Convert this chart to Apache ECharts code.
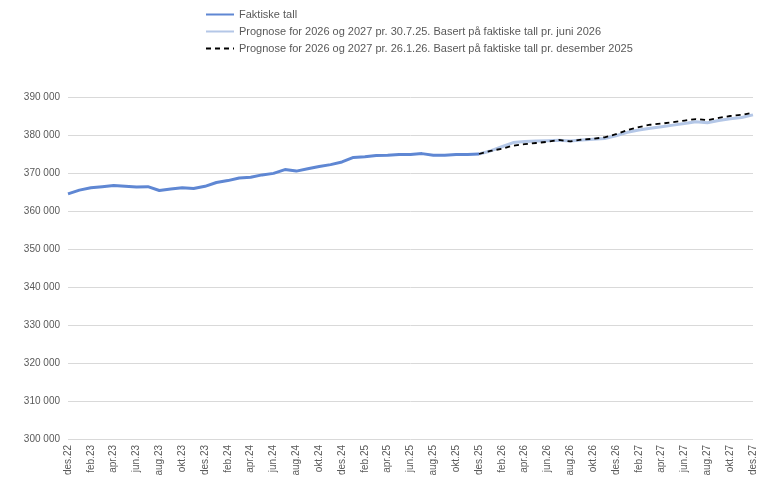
<!DOCTYPE html>
<html>
<head>
<meta charset="utf-8">
<script src="https://cdn.jsdelivr.net/npm/echarts@6/dist/echarts.min.js"></script>
<style>
  html, body { margin: 0; padding: 0; background: #fff; }
  #chart-container { width: 768px; height: 501px; }
</style>
</head>
<body>
<div id="chart-container"></div>
<script>
// month labels des.22 .. des.27
var monthNames = ["jan", "feb", "mar", "apr", "mai", "jun", "jul", "aug", "sep", "okt", "nov", "des"];
var years = ["23", "24", "25", "26", "27"];
var categories = ["des.22"];
years.forEach(function (y) {
  monthNames.forEach(function (m) {
    categories.push(m + "." + y);
  });
});

// Faktiske tall, des.22 - des.25
var actual = [
  364500, 365500, 366100, 366400, 366700, 366500, 366300, 366400, 365400, 365800,
  366100, 365900, 366500, 367500, 368000, 368700, 368900, 369500, 369900, 370900,
  370500, 371100, 371700, 372200, 372900, 374100, 374300, 374600, 374700, 374900,
  374900, 375100, 374700, 374700, 374900, 374900, 375000
];

// Prognose pr. 30.7.25, des.25 - des.27
var forecastJul = [
  375000, 375800, 376900, 378000, 378300, 378400, 378500, 378600, 378400, 378700,
  378900, 379100, 379800, 380700, 381300, 381800, 382200, 382600, 383000, 383500,
  383200, 383800, 384300, 384600, 385300
];

// Prognose pr. 26.1.26, des.25 - des.27
var forecastJan = [
  375000, 375800, 376400, 377200, 377600, 377900, 378200, 378700, 378300, 378800,
  379000, 379400, 380200, 381300, 382100, 382700, 383000, 383400, 383800, 384200,
  383900, 384500, 385000, 385300, 385900
];

var seriesNames = [
  "Faktiske tall",
  "Prognose for 2026 og 2027 pr. 30.7.25. Basert på faktiske tall pr. juni 2026",
  "Prognose for 2026 og 2027 pr. 26.1.26. Basert på faktiske tall pr. desember 2025"
];

function padFront(arr, offset) {
  var out = [];
  for (var i = 0; i < offset; i++) out.push(null);
  return out.concat(arr);
}
var offset = actual.length - 1;

var dom = document.getElementById("chart-container");
var myChart = echarts.init(dom, null, { renderer: "canvas" });

var textColor = "#595959";
var option = {
  animation: false,
  textStyle: { fontFamily: "Liberation Sans, Arial, sans-serif" },
  legend: {
    orient: "vertical",
    left: 200,
    top: 4,
    itemGap: 6,
    itemWidth: 28,
    itemHeight: 11,
    itemStyle: { opacity: 0 },
    textStyle: { color: textColor, fontSize: 11 },
    data: seriesNames
  },
  grid: { left: 68, right: 15, top: 97, bottom: 62 },
  xAxis: {
    type: "category",
    boundaryGap: false,
    data: categories,
    axisLine: { show: false },
    axisTick: { show: false },
    axisLabel: {
      interval: 1,
      rotate: 90,
      color: textColor,
      fontSize: 10,
      margin: 6
    }
  },
  yAxis: {
    type: "value",
    min: 300000,
    max: 390000,
    interval: 10000,
    axisLine: { show: false },
    axisTick: { show: false },
    splitLine: { lineStyle: { color: "#d9d9d9", width: 1 } },
    axisLabel: {
      color: textColor,
      fontSize: 10,
      margin: 8,
      formatter: function (v) {
        return String(v).replace(/\B(?=(\d{3})+(?!\d))/g, " ");
      }
    }
  },
  series: [
    {
      name: seriesNames[1],
      type: "line",
      symbol: "none",
      z: 1,
      data: padFront(forecastJul, offset),
      lineStyle: { color: "#b4c7e7", width: 3 },
      itemStyle: { color: "#b4c7e7" }
    },
    {
      name: seriesNames[0],
      type: "line",
      symbol: "none",
      z: 2,
      data: actual,
      lineStyle: { color: "#5f87d3", width: 3 },
      itemStyle: { color: "#5f87d3" }
    },
    {
      name: seriesNames[2],
      type: "line",
      symbol: "none",
      z: 3,
      data: padFront(forecastJan, offset),
      lineStyle: { color: "#000000", width: 1.8, type: [5, 4] },
      itemStyle: { color: "#000000" }
    }
  ]
};

myChart.setOption(option);
window.addEventListener("resize", myChart.resize);
</script>
</body>
</html>
